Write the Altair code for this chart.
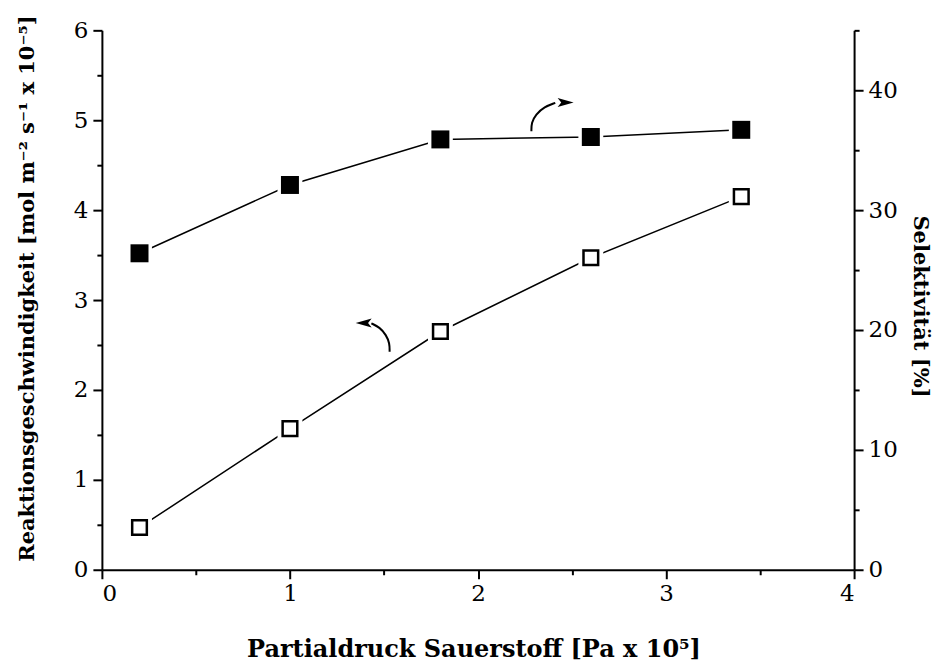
import altair as alt
import pandas as pd

# ---- data ----
x_vals = [0.2, 1.0, 1.8, 2.6, 3.4]          # Partialdruck Sauerstoff [Pa x 10^5]
rate_vals = [0.47, 1.57, 2.65, 3.47, 4.15]  # Reaktionsgeschwindigkeit (left axis)
sel_vals = [26.4, 32.1, 35.9, 36.1, 36.7]   # Selektivität [%] (right axis)

x_major = [0, 1, 2, 3, 4]
x_minor = [0.5, 1.5, 2.5, 3.5]
left_major = [0, 1, 2, 3, 4, 5, 6]
left_minor = [0.5, 1.5, 2.5, 3.5, 4.5, 5.5]
right_major = [0, 10, 20, 30, 40]
right_minor = [5, 15, 25, 35, 45]

# annotation arrows (in left-axis data units)
arrow_low_x = [1.530, 1.530, 1.512, 1.477, 1.433]
arrow_low_y = [2.426, 2.519, 2.611, 2.697, 2.741]
arrow_low_head = [1.392, 2.744]
arrow_up_x = [2.284, 2.284, 2.307, 2.353, 2.411]
arrow_up_y = [4.878, 4.971, 5.063, 5.149, 5.193]
arrow_up_head = [2.466, 5.197]

x_title = "Partialdruck Sauerstoff [Pa x 10\u2075]"
left_title = "Reaktionsgeschwindigkeit [mol m\u207b\u00b2 s\u207b\u00b9 x 10\u207b\u2075]"
right_title = "Selektivit\u00e4t [%]"

FONT = "DejaVu Serif"

df = pd.DataFrame({"p": x_vals, "rate": rate_vals, "sel": sel_vals})
df_low = pd.DataFrame({"x": arrow_low_x, "y": arrow_low_y, "o": list(range(len(arrow_low_x)))})
df_up = pd.DataFrame({"x": arrow_up_x, "y": arrow_up_y, "o": list(range(len(arrow_up_x)))})
df_low_head = pd.DataFrame({"x": [arrow_low_head[0]], "y": [arrow_low_head[1]]})
df_up_head = pd.DataFrame({"x": [arrow_up_head[0]], "y": [arrow_up_head[1]]})

xs = alt.Scale(domain=[0, 4], nice=False, zero=False)
yl = alt.Scale(domain=[0, 6], nice=False)
yr = alt.Scale(domain=[0, 45], nice=False)

base = alt.Chart(df)

x_major_axis = alt.Axis(orient="bottom", values=x_major, format="d", tickSize=9,
                        labelPadding=4, title=x_title, titleX=372, titleY=80,
                        titleFontSize=24,
                        titleAlign="center", titleBaseline="middle")
x_minor_axis = alt.Axis(orient="bottom", values=x_minor, labels=False, domain=False,
                        tickSize=5, title="")
yl_major_axis = alt.Axis(orient="left", values=left_major, format="d", tickSize=9,
                         labelPadding=5, title=left_title, titleAngle=270,
                         titleX=-74, titleY=258, titleAlign="center", titleBaseline="middle")
yl_minor_axis = alt.Axis(orient="left", values=left_minor, labels=False, domain=False,
                         tickSize=5, title="")
yr_major_axis = alt.Axis(orient="right", values=right_major, format="d", tickSize=9,
                         labelPadding=5, title=right_title, titleAngle=90,
                         titleX=65, titleY=276, titleAlign="center", titleBaseline="middle")
yr_minor_axis = alt.Axis(orient="right", values=right_minor, labels=False, domain=False,
                         tickSize=5, title="")

open_line = base.mark_line(color="black", strokeWidth=1.5).encode(
    x=alt.X("p:Q", scale=xs, axis=x_major_axis),
    y=alt.Y("rate:Q", scale=yl, axis=yl_major_axis),
)
open_halo = base.mark_square(color="white", size=620, opacity=1).encode(
    x=alt.X("p:Q", scale=xs, axis=x_minor_axis),
    y=alt.Y("rate:Q", scale=yl, axis=yl_minor_axis),
)
open_pts = base.mark_point(shape="square", filled=True, fill="white", stroke="black",
                           strokeWidth=2.5, size=215, opacity=1).encode(
    x=alt.X("p:Q", scale=xs, axis=None),
    y=alt.Y("rate:Q", scale=yl, axis=None),
)

fill_line = base.mark_line(color="black", strokeWidth=1.5).encode(
    x=alt.X("p:Q", scale=xs, axis=None),
    y=alt.Y("sel:Q", scale=yr, axis=yr_major_axis),
)
fill_halo = base.mark_square(color="white", size=620, opacity=1).encode(
    x=alt.X("p:Q", scale=xs, axis=None),
    y=alt.Y("sel:Q", scale=yr, axis=yr_minor_axis),
)
fill_pts = base.mark_square(color="black", size=324, opacity=1).encode(
    x=alt.X("p:Q", scale=xs, axis=None),
    y=alt.Y("sel:Q", scale=yr, axis=None),
)

def arrow_curve(d):
    return alt.Chart(d).mark_line(color="black", strokeWidth=2, interpolate="basis").encode(
        x=alt.X("x:Q", scale=xs, axis=None),
        y=alt.Y("y:Q", scale=yl, axis=None),
        order="o:Q",
    )

def arrow_head(d, path):
    return alt.Chart(d).mark_point(shape=path, filled=True, color="black", size=256,
                                   opacity=1, strokeWidth=0).encode(
        x=alt.X("x:Q", scale=xs, axis=None),
        y=alt.Y("y:Q", scale=yl, axis=None),
    )

left_head = "M-1,0 L1,-0.56 L0.55,0 L1,0.56 Z"
right_head = "M1,0 L-1,-0.56 L-0.55,0 L-1,0.56 Z"

chart = alt.layer(
    open_line, fill_line, open_halo, fill_halo, open_pts, fill_pts,
    arrow_curve(df_low), arrow_head(df_low_head, left_head),
    arrow_curve(df_up), arrow_head(df_up_head, right_head),
).resolve_scale(
    x="independent", y="independent"
).properties(
    width=753, height=540,
    autosize=alt.AutoSizeParams(type="none"),
    padding={"left": 94, "top": 22, "right": 80, "bottom": 96},
).configure_view(
    strokeOpacity=0
).configure_axis(
    domainColor="black", domainWidth=2, tickColor="black", tickWidth=2,
    labelFont=FONT, labelFontSize=23, labelColor="black",
    titleFont=FONT, titleFontSize=21, titleFontWeight="bold", titleColor="black",
    grid=False,
)

chart.save("out.html", embed_options={"renderer": "svg", "actions": False})
